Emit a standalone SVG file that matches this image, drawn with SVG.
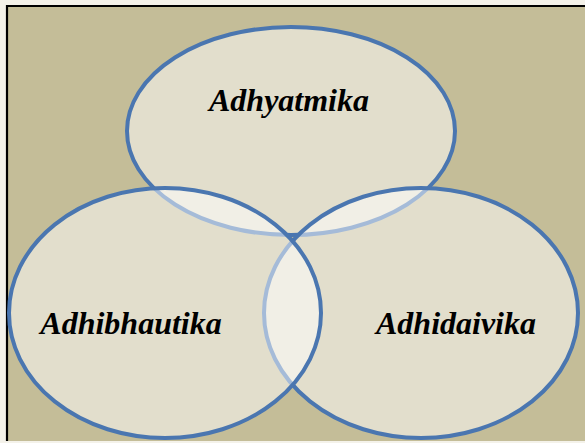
<svg xmlns="http://www.w3.org/2000/svg" width="585" height="443" viewBox="0 0 585 443">
<style>
.c{fill:#ffffff;fill-opacity:0.5;stroke:#4A76B0;stroke-width:4}
.t{font-family:"Liberation Serif",serif;font-weight:bold;font-style:italic;font-size:32px;fill:#000;text-anchor:middle}
</style>
<rect x="0" y="0" width="585" height="443" fill="#F4F2EA"/>
<rect x="7" y="6" width="578" height="435" fill="#C4BD98"/>
<path d="M7 441 V6 H585" fill="none" stroke="#000" stroke-width="2.2"/>
<g id="adhyatmika">
<ellipse class="c" cx="291" cy="131" rx="164" ry="104"/>
<text class="t" x="289" y="111">Adhyatmika</text>
</g>
<g id="adhidaivika">
<ellipse class="c" cx="421" cy="313" rx="157" ry="125"/>
<text class="t" x="456" y="334">Adhidaivika</text>
</g>
<g id="adhibhautika">
<ellipse class="c" cx="165" cy="313" rx="156" ry="125"/>
<text class="t" x="131" y="334">Adhibhautika</text>
</g>
<g id="connectors"></g>
</svg>
